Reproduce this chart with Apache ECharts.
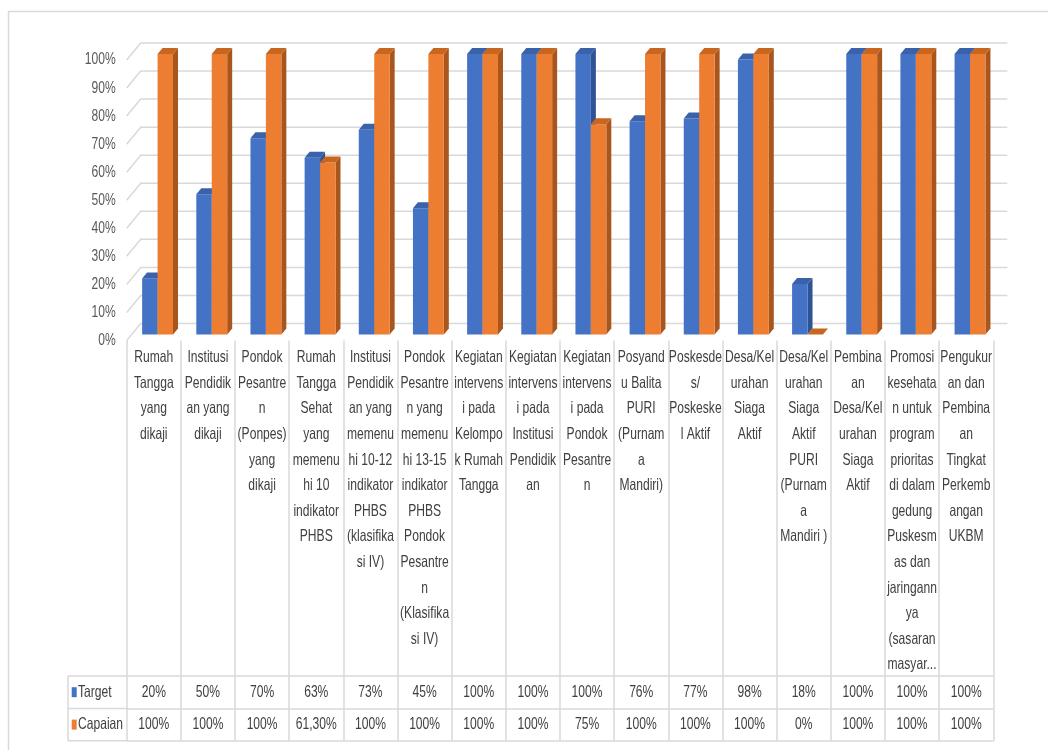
<!DOCTYPE html>
<html>
<head>
<meta charset="utf-8">
<script src="https://cdn.jsdelivr.net/npm/echarts@6/dist/echarts.min.js"></script>
<style>html,body{margin:0;padding:0;background:#fff}#c{width:1048px;height:750px}</style>
</head>
<body>
<div id="c"></div>
<script>
// ---- data ----
var categories = [
  "Rumah\nTangga\nyang\ndikaji",
  "Institusi\nPendidik\nan yang\ndikaji",
  "Pondok\nPesantre\nn\n(Ponpes)\nyang\ndikaji",
  "Rumah\nTangga\nSehat\nyang\nmemenu\nhi 10\nindikator\nPHBS",
  "Institusi\nPendidik\nan yang\nmemenu\nhi 10-12\nindikator\nPHBS\n(klasifika\nsi IV)",
  "Pondok\nPesantre\nn yang\nmemenu\nhi 13-15\nindikator\nPHBS\nPondok\nPesantre\nn\n(Klasifika\nsi IV)",
  "Kegiatan\nintervens\ni pada\nKelompo\nk Rumah\nTangga",
  "Kegiatan\nintervens\ni pada\nInstitusi\nPendidik\nan",
  "Kegiatan\nintervens\ni pada\nPondok\nPesantre\nn",
  "Posyand\nu Balita\nPURI\n(Purnam\na\nMandiri)",
  "Poskesde\ns/\nPoskeske\nl Aktif",
  "Desa/Kel\nurahan\nSiaga\nAktif",
  "Desa/Kel\nurahan\nSiaga\nAktif\nPURI\n(Purnam\na\nMandiri )",
  "Pembina\nan\nDesa/Kel\nurahan\nSiaga\nAktif",
  "Promosi\nkesehata\nn untuk\nprogram\nprioritas\ndi dalam\ngedung\nPuskesm\nas dan\njaringann\nya\n(sasaran\nmasyar...",
  "Pengukur\nan dan\nPembina\nan\nTingkat\nPerkemb\nangan\nUKBM"
];
var seriesNames = ["Target", "Capaian"];
var target  = [20, 50, 70, 63, 73, 45, 100, 100, 100, 76, 77, 98, 18, 100, 100, 100];
var capaian = [100, 100, 100, 61.3, 100, 100, 100, 100, 75, 100, 100, 100, 0, 100, 100, 100];
var yTicks = [0, 10, 20, 30, 40, 50, 60, 70, 80, 90, 100];

// ---- layout / style ----
var FONT = "'Liberation Sans', Arial, sans-serif";
var FS = 15.5, SX = 0.78, SY = 1.05;
var GRID_L = 126.7, GRID_T = 60, GRID_R = 1048 - 993.3, GRID_B = 750 - 340.5;
var AXIS_Y = 750 - GRID_B;           // y of 0%
var HEADER_H = 335.5, ROW_H = 32.4, LEG_L = 68;
var LINE_H = 25.6, LABEL_TOP = 4.5;
var GRIDC = '#d9d9d9';
var TXT = '#404040', YTXT = '#595959';
var DEPTH_X = 14, DEPTH_Y = -17;     // back-wall offset
var BX = 5, BY = -6;                 // bar depth
var BAR_SHIFT = -6;
var COLORS = [
  {front: '#4472C4', top: '#3a62ab', side: '#2f5393'},
  {front: '#ED7D31', top: '#c8661f', side: '#a9561e'}
];

function fmt(v) {
  return (Math.round(v) === v ? String(v) : v.toFixed(2).replace('.', ',')) + '%';
}

function txt(x, y, s, align, vAlign, color, lh) {
  return {
    type: 'text', x: x, y: y, scaleX: SX, scaleY: SY, silent: true,
    style: {text: s, font: FS + 'px ' + FONT, fill: color || TXT, align: align, verticalAlign: vAlign,
            lineHeight: lh ? lh / SY : undefined}
  };
}

var chart = echarts.init(document.getElementById('c'));

function wallRender(params, api) {
  var cs = params.coordSys;
  var y = api.coord([0, api.value(1)])[1];
  var x0 = cs.x;
  return {
    type: 'group',
    children: [
      {type: 'polyline',
       shape: {points: [[x0, y], [x0 + DEPTH_X, y + DEPTH_Y], [cs.x + cs.width + DEPTH_X, y + DEPTH_Y]]},
       style: {stroke: GRIDC, lineWidth: 1.5, fill: null}, silent: true},
      txt(x0 - 11, y, api.value(1) + '%', 'right', 'middle', YTXT)
    ]
  };
}

function tableRender(params, api) {
  var i = api.value(0);
  var cx = api.coord([i, 0])[0];
  return {
    type: 'group',
    children: [
      txt(cx, AXIS_Y + LABEL_TOP, categories[i], 'center', 'top', TXT, LINE_H),
      txt(cx, AXIS_Y + HEADER_H + ROW_H / 2, fmt(target[i]), 'center', 'middle'),
      txt(cx, AXIS_Y + HEADER_H + ROW_H * 1.5, fmt(capaian[i]), 'center', 'middle')
    ]
  };
}

function makeBarRender(si) {
  return function (params, api) {
    var idx = api.value(0), v = api.value(1);
    var top = api.coord([idx, v]);
    var base = api.coord([idx, 0]);
    var bw = api.size([1, 0])[0];
    var cx = top[0];
    var split = cx + bw * 0.07;
    var w = bw * 0.285;
    var x0 = si === 0 ? split - w : split;
    var x1 = si === 0 ? split : split + w;
    var yt = top[1] + BAR_SHIFT, yb = base[1] + BAR_SHIFT;
    var c = COLORS[si];
    return {
      type: 'group',
      children: [
        {type: 'polygon', shape: {points: [[x1, yt], [x1 + BX, yt + BY], [x1 + BX, yb + BY], [x1, yb]]}, style: {fill: c.side}},
        {type: 'rect', shape: {x: x0, y: yt, width: x1 - x0, height: yb - yt}, style: {fill: c.front}},
        {type: 'polygon', shape: {points: [[x0, yt], [x1, yt], [x1 + BX, yt + BY], [x0 + BX, yt + BY]]}, style: {fill: c.top}}
      ]
    };
  };
}

var lineStyle = {color: GRIDC, width: 1.5};
var legY0 = AXIS_Y + HEADER_H;

var option = {
  animation: false,
  grid: {left: GRID_L, right: GRID_R, top: GRID_T, bottom: GRID_B, containLabel: false},
  xAxis: [
    {
      type: 'category', data: categories, boundaryGap: true, position: 'bottom',
      axisLine: {show: false},
      axisTick: {show: true, interval: 0, length: HEADER_H, lineStyle: lineStyle},
      axisLabel: {show: false}, splitLine: {show: false}
    },
    {
      type: 'category', data: categories, position: 'bottom', offset: HEADER_H,
      axisLine: {show: true, lineStyle: lineStyle},
      axisTick: {show: true, interval: 0, length: ROW_H, lineStyle: lineStyle},
      axisLabel: {show: false}
    },
    {
      type: 'category', data: categories, position: 'bottom', offset: HEADER_H + ROW_H,
      axisLine: {show: true, lineStyle: lineStyle},
      axisTick: {show: true, interval: 0, length: ROW_H, lineStyle: lineStyle},
      axisLabel: {show: false}
    },
    {
      type: 'category', data: categories, position: 'bottom', offset: HEADER_H + 2 * ROW_H,
      axisLine: {show: true, lineStyle: lineStyle},
      axisTick: {show: false}, axisLabel: {show: false}
    }
  ],
  yAxis: {
    type: 'value', min: 0, max: 100, interval: 10,
    axisLine: {show: false}, axisTick: {show: false}, splitLine: {show: false},
    axisLabel: {show: false}
  },
  graphic: [
    {type: 'rect', shape: {x: 8.5, y: 11.5, width: 1200, height: 900}, style: {fill: null, stroke: GRIDC, lineWidth: 1.5}, silent: true},
    {type: 'line', shape: {x1: LEG_L, y1: legY0, x2: GRID_L, y2: legY0}, style: {stroke: GRIDC, lineWidth: 1.5}},
    {type: 'line', shape: {x1: LEG_L, y1: legY0 + ROW_H, x2: GRID_L, y2: legY0 + ROW_H}, style: {stroke: GRIDC, lineWidth: 1.5}},
    {type: 'line', shape: {x1: LEG_L, y1: legY0 + 2 * ROW_H, x2: GRID_L, y2: legY0 + 2 * ROW_H}, style: {stroke: GRIDC, lineWidth: 1.5}},
    {type: 'line', shape: {x1: LEG_L, y1: legY0, x2: LEG_L, y2: legY0 + 2 * ROW_H}, style: {stroke: GRIDC, lineWidth: 1.5}},
    {type: 'rect', shape: {x: LEG_L + 3.7, y: legY0 + ROW_H / 2 - 5, width: 5, height: 10}, style: {fill: COLORS[0].front}},
    {type: 'rect', shape: {x: LEG_L + 3.7, y: legY0 + ROW_H * 1.5 - 5, width: 5, height: 10}, style: {fill: COLORS[1].front}},
    {type: 'text', x: LEG_L + 10, y: legY0 + ROW_H / 2, scaleX: SX, scaleY: SY,
     style: {text: seriesNames[0], font: FS + 'px ' + FONT, fill: TXT, verticalAlign: 'middle'}},
    {type: 'text', x: LEG_L + 10, y: legY0 + ROW_H * 1.5, scaleX: SX, scaleY: SY,
     style: {text: seriesNames[1], font: FS + 'px ' + FONT, fill: TXT, verticalAlign: 'middle'}}
  ],
  series: [
    {type: 'custom', name: 'wall', xAxisIndex: 0, z: 1, renderItem: wallRender, silent: true, clip: false,
     data: yTicks.map(function (v) { return [0, v]; })},
    {type: 'custom', name: 'table', xAxisIndex: 0, z: 1, renderItem: tableRender, silent: true, clip: false,
     data: categories.map(function (c, i) { return [i, 0]; })},
    {type: 'custom', name: seriesNames[0], xAxisIndex: 0, z: 2, renderItem: makeBarRender(0),
     data: target.map(function (v, i) { return [i, v]; })},
    {type: 'custom', name: seriesNames[1], xAxisIndex: 0, z: 3, renderItem: makeBarRender(1),
     data: capaian.map(function (v, i) { return [i, v]; })}
  ]
};
chart.setOption(option);
</script>
</body>
</html>
